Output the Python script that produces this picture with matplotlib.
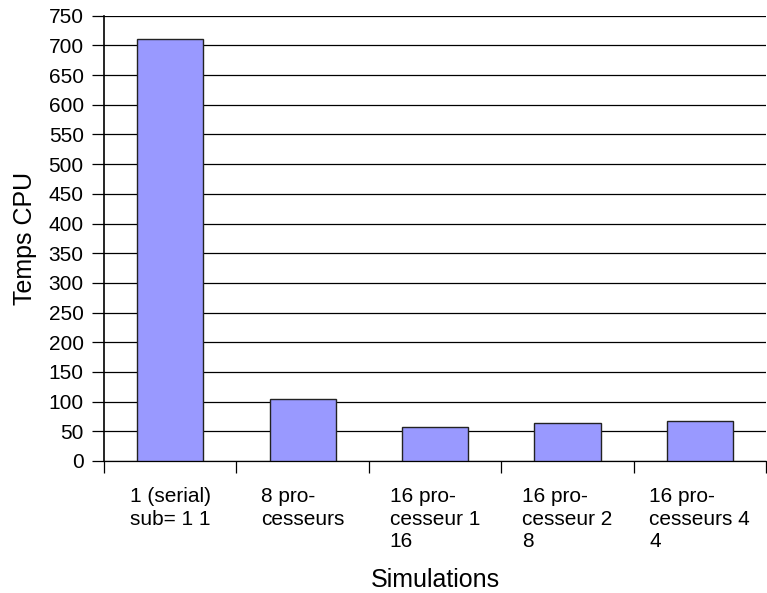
import matplotlib.pyplot as plt
from matplotlib.ticker import FixedLocator

plt.rcParams['font.family'] = ['Liberation Sans', 'DejaVu Sans']

# data
categories = ['1 (serial)\nsub= 1 1', '8 pro-\ncesseurs', '16 pro-\ncesseur 1\n16',
              '16 pro-\ncesseur 2\n8', '16 pro-\ncesseurs 4\n4']
temps_cpu = [710, 104, 57, 64, 67]
y_ticks = list(range(0, 751, 50))

W, H = 767, 593
fig = plt.figure(figsize=(W / 100, H / 100), dpi=100)
ax = fig.add_axes([104 / W, (H - 461) / H, (766 - 104) / W, (461 - 15.7) / H])

n = len(categories)
x = list(range(n))
ax.bar(x, temps_cpu, width=0.5, color='#9999ff', edgecolor='#222222', linewidth=1.0, zorder=3)

ax.set_xlim(-0.5, n - 0.5)
ax.set_ylim(0, 750)
ax.set_yticks(y_ticks)
ax.yaxis.grid(True, color='black', linewidth=0.9, zorder=0)
ax.set_axisbelow(True)

# category boundaries as ticks, labels centred as a block but left-aligned inside
ax.xaxis.set_minor_locator(FixedLocator([i - 0.5 for i in range(n + 1)]))
ax.set_xticks(x)
ax.set_xticklabels(categories, ha='center', va='top', multialignment='left', linespacing=1.22)
ax.tick_params(axis='x', which='major', length=0, pad=19, labelsize=15)
ax.tick_params(axis='x', which='minor', length=8.6, width=0.9, direction='out', color='black')
ax.tick_params(axis='y', length=8.6, width=0.9, direction='out', labelsize=15, pad=6)

for s in ['top', 'right']:
    ax.spines[s].set_visible(False)
ax.spines['left'].set_linewidth(1.2)
ax.spines['bottom'].set_linewidth(0.9)

ax.set_xlabel('Simulations', fontsize=18, labelpad=12)
ax.set_ylabel('Temps CPU', fontsize=18, labelpad=8)

fig.savefig('out.png', dpi=100)
